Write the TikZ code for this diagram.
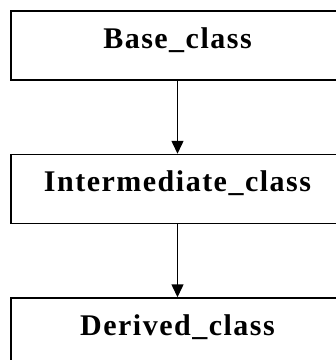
\documentclass[tikz,border=0pt]{standalone}
\usepackage{fontspec}
\setmainfont{Liberation Serif}
\usetikzlibrary{shapes,arrows.meta}

\begin{document}
\begin{tikzpicture}[x=1pt, y=1pt, node distance = 143.5pt, auto]
    % Define block styles
    \tikzstyle{block} = [rectangle, draw, line width=1.5pt, inner sep=0pt,
        minimum width=333pt, text height=37pt, text depth=32pt,
        font=\fontsize{30}{36}\selectfont\bfseries\addfontfeature{LetterSpace=5}]
    \tikzstyle{line} = [draw, line width=1.5pt, -{Triangle[width=12pt, length=13pt]}]

    \clip (0,0) rectangle (336,-360);

    % Class chain
    \node [block] at (177.5,-45.5) (base) {Base\_class};
    \node [block, below of=base] (inter) {Intermediate\_class};
    \node [block, below of=inter] (derived) {Derived\_class};

    % Inheritance paths
    \path [line] (base) -- (inter);
    \path [line] (inter) -- (derived);

\end{tikzpicture}
\end{document}
